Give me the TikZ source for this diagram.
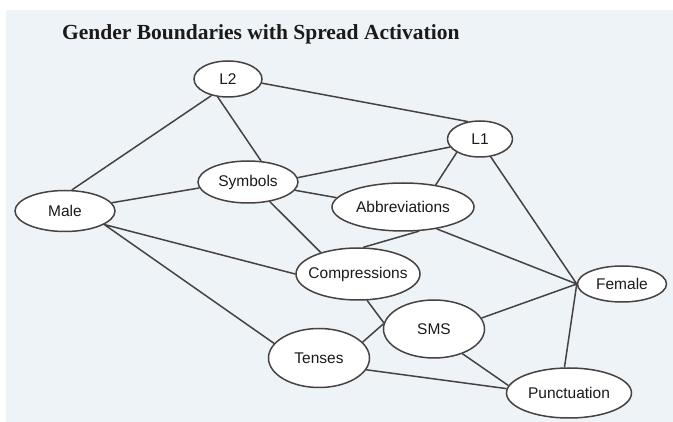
\documentclass[tikz,border=0pt]{standalone}
\usepackage{fontspec}
\setmainfont{Liberation Sans}
\newfontfamily\titlefont{Liberation Serif}
\usetikzlibrary{shapes.geometric}
\definecolor{bgblue}{HTML}{EEF3F7}
\definecolor{edgegray}{HTML}{464242}
\definecolor{txt}{HTML}{1A1A1A}
\tikzset{
  concept/.style={ellipse, draw=edgegray, line width=1.5pt, fill=white, inner sep=0pt,
    text=txt, font=\fontsize{15.5}{16}\selectfont},
  link/.style={draw=edgegray, line width=1.5pt}
}
\newcommand{\lbl}[1]{\makebox[0pt]{#1}}
\begin{document}
\begin{tikzpicture}[x=1pt,y=-1pt]
\useasboundingbox (0,0) rectangle (673,422);
\fill[bgblue] (6,10) rectangle (673,422);
\node[anchor=base west, inner sep=0pt, text=txt, font=\titlefont\bfseries\fontsize{21.5}{24}\selectfont] (title) at (62,40) {Gender Boundaries with Spread Activation};

\node[concept, minimum width=68pt, minimum height=36pt] (L2) at (228,79) {\lbl{L2}};
\node[concept, minimum width=65pt, minimum height=36pt] (L1) at (480,139) {\lbl{L1}};
\node[concept, minimum width=100pt, minimum height=42pt] (sym) at (248,182) {\lbl{Symbols}};
\node[concept, minimum width=142pt, minimum height=48pt] (abb) at (403,207) {\lbl{Abbreviations}};
\node[concept, minimum width=100pt, minimum height=41pt] (male) at (65,211) {\lbl{Male}};
\node[concept, minimum width=124pt, minimum height=52pt] (comp) at (358,274) {\lbl{Compressions}};
\node[concept, minimum width=89pt, minimum height=36pt] (fem) at (622,284) {\lbl{Female}};
\node[concept, minimum width=101pt, minimum height=58pt] (sms) at (434,329) {\lbl{SMS}};
\node[concept, minimum width=101pt, minimum height=59pt] (ten) at (319,358) {\lbl{Tenses}};
\node[concept, minimum width=125pt, minimum height=50pt] (pun) at (569,393) {\lbl{Punctuation}};

\path[link]
  (L2.-135) -- (male.72)
  (L2.-120) -- (sym.58)
  (L2.-7) -- (L1.125)
  (L1.-165) -- (sym.5)
  (L1.-150) -- (abb.34)
  (L1.-59) -- (fem.west)
  (sym.-173) -- (male.10)
  (sym.-10) -- (abb.172)
  (sym.-42) -- (comp.150)
  (male.-19) -- (comp.180)
  (male.-19) -- (ten.162)
  (abb.-56) -- (comp.79)
  (abb.-33) -- (fem.west)
  (comp.-71) -- (sms.173)
  (sms.174) -- (ten.20)
  (sms.13) -- (fem.west)
  (sms.-41) -- (pun.173)
  (ten.-14) -- (pun.176)
  (fem.west) -- (pun.100);
\end{tikzpicture}
\end{document}
